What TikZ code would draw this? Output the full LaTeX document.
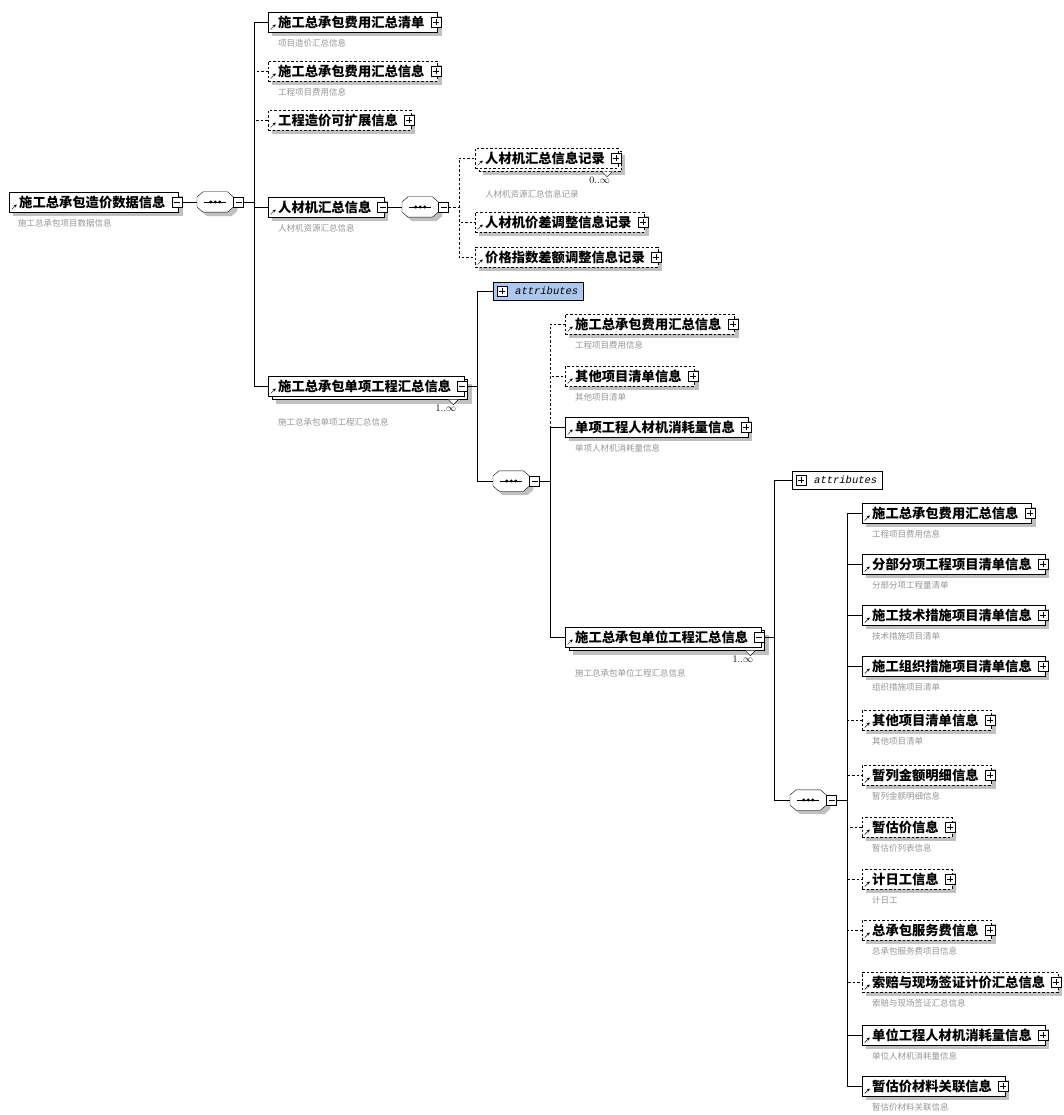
\documentclass[tikz,border=0pt]{standalone}
\usepackage{fontspec}
\newfontfamily\cjk{Noto Sans CJK SC}
\setmonofont{Liberation Mono}
\usetikzlibrary{positioning,shadows,arrows.meta}
\definecolor{shadowgray}{RGB}{192,192,192}
\definecolor{attrblue}{RGB}{172,200,238}
\definecolor{annogray}{RGB}{150,150,150}
\newcommand\seqdraw[1]{%
  \fill[shadowgray, transform canvas={xshift=4pt, yshift=-4pt}] ([yshift=5pt]#1.west) -- ([xshift=6pt]#1.north west) -- ([xshift=-6pt]#1.north east) -- ([yshift=5pt]#1.east) -- ([yshift=-5pt]#1.east) -- ([xshift=-6pt]#1.south east) -- ([xshift=6pt]#1.south west) -- ([yshift=-5pt]#1.west) -- cycle;
  \draw[fill=white] ([yshift=5pt]#1.west) -- ([xshift=6pt]#1.north west) -- ([xshift=-6pt]#1.north east) -- ([yshift=5pt]#1.east) -- ([yshift=-5pt]#1.east) -- ([xshift=-6pt]#1.south east) -- ([xshift=6pt]#1.south west) -- ([yshift=-5pt]#1.west) -- cycle;
  \draw ([xshift=7pt]#1.west) -- ([xshift=-7pt]#1.east);
  \fill ([xshift=-4.5pt]#1.center) circle (1.7pt) (#1.center) circle (1.7pt) ([xshift=4.5pt]#1.center) circle (1.7pt);}
\tikzstyle{elem} = [rectangle, draw=black, fill=white, minimum height=20pt, inner xsep=0pt, inner ysep=0pt, anchor=west, font=\cjk\bfseries\fontsize{13.3}{15}\selectfont, drop shadow={shadow xshift=4pt, shadow yshift=-4pt, fill=shadowgray, opacity=1}, execute at begin node=\hspace{10pt}, execute at end node=\hspace{13pt}, path picture={\draw[solid, -{Stealth[length=3pt,width=3pt]}] ([shift={(2.5pt,2.5pt)}]path picture bounding box.south west) -- ++(5pt,5pt);}]
\tikzstyle{optelem} = [elem, dash pattern=on 2.5pt off 2pt]
\tikzstyle{multi} = [general shadow={fill=shadowgray, shadow xshift=7.5pt, shadow yshift=-7.5pt}, general shadow={fill=white, draw=black, shadow xshift=3.5pt, shadow yshift=-3.5pt}]
\tikzstyle{pm} = [rectangle, draw=black, fill=white, minimum size=10pt, inner sep=0pt, solid]
\tikzstyle{plus} = [pm, path picture={\draw ([xshift=2pt]path picture bounding box.west) -- ([xshift=-2pt]path picture bounding box.east) ([yshift=-2pt]path picture bounding box.north) -- ([yshift=2pt]path picture bounding box.south);}]
\tikzstyle{minus} = [pm, path picture={\draw ([xshift=2pt]path picture bounding box.west) -- ([xshift=-2pt]path picture bounding box.east);}]
\tikzstyle{seq} = [rectangle, minimum width=36pt, minimum height=20pt, inner sep=0pt, anchor=west, append after command={\pgfextra{\seqdraw{\tikzlastnode}}}]
\tikzstyle{attr} = [rectangle, draw=black, minimum height=18pt, inner xsep=0pt, inner ysep=0pt, anchor=west, font=\ttfamily\itshape\fontsize{10.5}{12}\selectfont, execute at begin node=\hspace{22pt}, execute at end node=\hspace{5pt}]
\tikzstyle{anno} = [inner sep=0pt, text=annogray, font=\cjk\fontsize{8.5}{10}\selectfont]
\tikzstyle{mult} = [inner sep=0pt, font=\fontsize{10}{12}\selectfont]
\tikzstyle{optline} = [dash pattern=on 2.5pt off 2pt]

\begin{document}
\begin{tikzpicture}[x=1pt,y=-1pt]
    \useasboundingbox (0,0) rectangle (1063,1115);
    % root element and its sequence
    \node[elem] (root) at (9,202) {施工总承包造价数据信息};
    \node[minus] (rootm) at ([xshift=-2pt]root.east) {};
    \node[anno, below right=7pt and 9pt of root.south west] (rootn) {施工总承包项目数据信息};
    \node[seq] (sq0) at (197,202) {};
    \node[minus, right=0pt of sq0] (sq0m) {};
    \draw (rootm.east) -- (sq0.west);

    % first level
    \node[elem] (c1) at (268,22) {施工总承包费用汇总清单};
    \node[optelem] (c2) at (268,71) {施工总承包费用汇总信息};
    \node[optelem] (c3) at (268,120) {工程造价可扩展信息};
    \node[elem] (c4) at (268,207) {人材机汇总信息};
    \node[elem, multi] (c5) at (268,386) {施工总承包单项工程汇总信息};
    \node[plus] at ([xshift=-2pt]c1.east) {};
    \node[plus] at ([xshift=-2pt]c2.east) {};
    \node[plus] at ([xshift=-2pt]c3.east) {};
    \node[minus] (c4m) at ([xshift=-2pt]c4.east) {};
    \node[minus] (c5m) at ([xshift=-2pt]c5.east) {};
    \node[anno, below right=7pt and 10pt of c1.south west] {项目造价汇总信息};
    \node[anno, below right=7pt and 10pt of c2.south west] {工程项目费用信息};
    \node[anno, below right=7pt and 10pt of c4.south west] {人材机资源汇总信息};
    \node[anno, below right=22pt and 10pt of c5.south west] {施工总承包单项工程汇总信息};
    \node[mult, below left=8pt and 8pt of c5.south east] {1..$\infty$};
    \draw[fill=white] ([xshift=-16pt,yshift=-3.5pt]c5.south east) -- ++(5pt,-5pt) -- ++(5pt,5pt);
    \begin{scope}[optline]
        \draw (sq0m.east) -- ++(10pt,0) |- (c2.west);
        \draw (sq0m.east) -- ++(10pt,0) |- (c3.west);
    \end{scope}
    \draw (sq0m.east) -- ++(10pt,0) |- (c1.west);
    \draw (sq0m.east) -- ++(10pt,0) |- (c4.west);
    \draw (sq0m.east) -- ++(10pt,0) |- (c5.west);

    % 人材机汇总信息
    \node[seq] (sq1) at (402,207) {};
    \node[minus, right=0pt of sq1] (sq1m) {};
    \draw (c4m.east) -- (sq1.west);
    \node[optelem, multi] (r1) at (475,158) {人材机汇总信息记录};
    \node[optelem] (r2) at (475,222) {人材机价差调整信息记录};
    \node[optelem] (r3) at (475,257) {价格指数差额调整信息记录};
    \node[plus] at ([xshift=-2pt]r1.east) {};
    \node[plus] at ([xshift=-2pt]r2.east) {};
    \node[plus] at ([xshift=-2pt]r3.east) {};
    \node[mult, below left=8pt and 8pt of r1.south east] {0..$\infty$};
    \draw[fill=white] ([xshift=-16pt,yshift=-3.5pt]r1.south east) -- ++(5pt,-5pt) -- ++(5pt,5pt);
    \node[anno, below right=22pt and 10pt of r1.south west] {人材机资源汇总信息记录};
    \begin{scope}[optline]
        \draw (sq1m.east) -- ++(10pt,0) |- (r1.west);
        \draw (sq1m.east) -- ++(10pt,0) |- (r2.west);
        \draw (sq1m.east) -- ++(10pt,0) |- (r3.west);
    \end{scope}

    % 施工总承包单项工程汇总信息
    \node[attr, fill=attrblue] (a1) at (493,291) {attributes};
    \node[plus] at ([xshift=9pt]a1.west) {};
    \node[seq] (sq2) at (493,481) {};
    \node[minus, right=0pt of sq2] (sq2m) {};
    \draw (c5m.east) -- ++(10pt,0) |- (a1.west);
    \draw (c5m.east) -- ++(10pt,0) |- (sq2.west);
    \node[optelem] (p1) at (565,324) {施工总承包费用汇总信息};
    \node[optelem] (p2) at (565,376) {其他项目清单信息};
    \node[elem] (p3) at (565,427) {单项工程人材机消耗量信息};
    \node[elem, multi] (p4) at (565,637) {施工总承包单位工程汇总信息};
    \node[plus] at ([xshift=-2pt]p1.east) {};
    \node[plus] at ([xshift=-2pt]p2.east) {};
    \node[plus] at ([xshift=-2pt]p3.east) {};
    \node[minus] (p4m) at ([xshift=-2pt]p4.east) {};
    \node[anno, below right=7pt and 10pt of p1.south west] {工程项目费用信息};
    \node[anno, below right=7pt and 10pt of p2.south west] {其他项目清单};
    \node[anno, below right=7pt and 10pt of p3.south west] {单项人材机消耗量信息};
    \node[anno, below right=22pt and 10pt of p4.south west] {施工总承包单位工程汇总信息};
    \node[mult, below left=8pt and 8pt of p4.south east] {1..$\infty$};
    \draw[fill=white] ([xshift=-16pt,yshift=-3.5pt]p4.south east) -- ++(5pt,-5pt) -- ++(5pt,5pt);
    \begin{scope}[optline]
        \draw (sq2m.east) -- ++(10pt,0) |- (p1.west);
        \draw (sq2m.east) -- ++(10pt,0) |- (p2.west);
    \end{scope}
    \draw (sq2m.east) -- ++(10pt,0) |- (p3.west);
    \draw (sq2m.east) -- ++(10pt,0) |- (p4.west);

    % 施工总承包单位工程汇总信息
    \node[attr, fill=white] (a2) at (792,480) {attributes};
    \node[plus] at ([xshift=9pt]a2.west) {};
    \node[seq] (sq3) at (790,800) {};
    \node[minus, right=0pt of sq3] (sq3m) {};
    \draw (p4m.east) -- ++(10pt,0) |- (a2.west);
    \draw (p4m.east) -- ++(10pt,0) |- (sq3.west);
    \node[elem] (q1) at (862,513) {施工总承包费用汇总信息};
    \node[elem] (q2) at (862,564) {分部分项工程项目清单信息};
    \node[elem] (q3) at (862,615) {施工技术措施项目清单信息};
    \node[elem] (q4) at (862,666) {施工组织措施项目清单信息};
    \node[optelem] (q5) at (862,720) {其他项目清单信息};
    \node[optelem] (q6) at (862,775) {暂列金额明细信息};
    \node[optelem] (q7) at (862,827) {暂估价信息};
    \node[optelem] (q8) at (862,879) {计日工信息};
    \node[optelem] (q9) at (862,930) {总承包服务费信息};
    \node[optelem] (q10) at (862,982) {索赔与现场签证计价汇总信息};
    \node[elem] (q11) at (862,1035) {单位工程人材机消耗量信息};
    \node[elem] (q12) at (862,1086) {暂估价材料关联信息};
    \node[plus] at ([xshift=-2pt]q1.east) {};
    \node[plus] at ([xshift=-2pt]q2.east) {};
    \node[plus] at ([xshift=-2pt]q3.east) {};
    \node[plus] at ([xshift=-2pt]q4.east) {};
    \node[plus] at ([xshift=-2pt]q5.east) {};
    \node[plus] at ([xshift=-2pt]q6.east) {};
    \node[plus] at ([xshift=-2pt]q7.east) {};
    \node[plus] at ([xshift=-2pt]q8.east) {};
    \node[plus] at ([xshift=-2pt]q9.east) {};
    \node[plus] at ([xshift=-2pt]q10.east) {};
    \node[plus] at ([xshift=-2pt]q11.east) {};
    \node[plus] at ([xshift=-2pt]q12.east) {};
    \node[anno, below right=7pt and 10pt of q1.south west] {工程项目费用信息};
    \node[anno, below right=7pt and 10pt of q2.south west] {分部分项工程量清单};
    \node[anno, below right=7pt and 10pt of q3.south west] {技术措施项目清单};
    \node[anno, below right=7pt and 10pt of q4.south west] {组织措施项目清单};
    \node[anno, below right=7pt and 10pt of q5.south west] {其他项目清单};
    \node[anno, below right=7pt and 10pt of q6.south west] {暂列金额明细信息};
    \node[anno, below right=7pt and 10pt of q7.south west] {暂估价列表信息};
    \node[anno, below right=7pt and 10pt of q8.south west] {计日工};
    \node[anno, below right=7pt and 10pt of q9.south west] {总承包服务费项目信息};
    \node[anno, below right=7pt and 10pt of q10.south west] {索赔与现场签证汇总信息};
    \node[anno, below right=7pt and 10pt of q11.south west] {单位人材机消耗量信息};
    \node[anno, below right=7pt and 10pt of q12.south west] {暂估价材料关联信息};
    \begin{scope}[optline]
        \draw (sq3m.east) -- ++(10pt,0) |- (q5.west);
        \draw (sq3m.east) -- ++(10pt,0) |- (q6.west);
        \draw (sq3m.east) -- ++(10pt,0) |- (q7.west);
        \draw (sq3m.east) -- ++(10pt,0) |- (q8.west);
        \draw (sq3m.east) -- ++(10pt,0) |- (q9.west);
        \draw (sq3m.east) -- ++(10pt,0) |- (q10.west);
    \end{scope}
    \draw (sq3m.east) -- ++(10pt,0) |- (q1.west);
    \draw (sq3m.east) -- ++(10pt,0) |- (q2.west);
    \draw (sq3m.east) -- ++(10pt,0) |- (q3.west);
    \draw (sq3m.east) -- ++(10pt,0) |- (q4.west);
    \draw (sq3m.east) -- ++(10pt,0) |- (q11.west);
    \draw (sq3m.east) -- ++(10pt,0) |- (q12.west);
\end{tikzpicture}
\end{document}
